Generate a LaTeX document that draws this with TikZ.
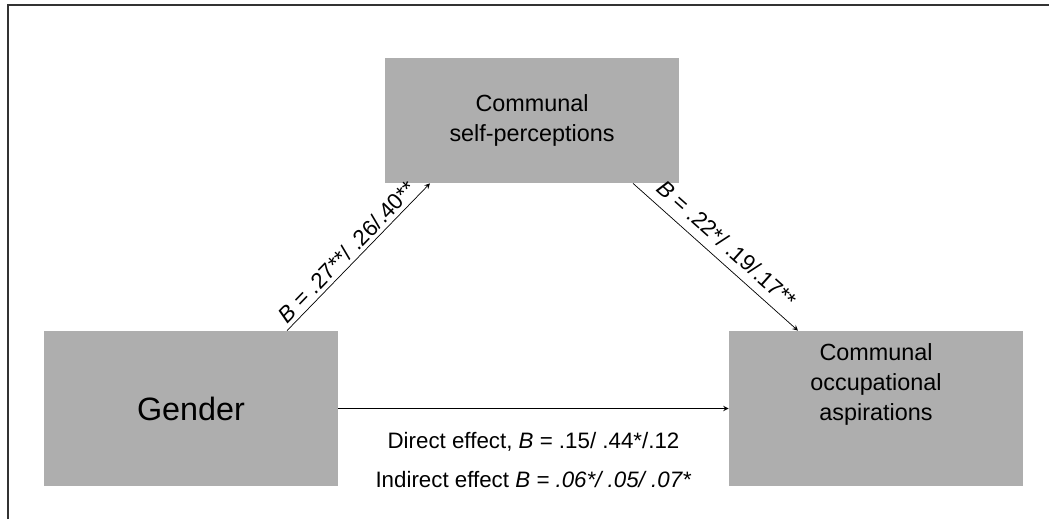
\documentclass[tikz,border=0pt]{standalone}
\usepackage{fontspec}
\setmainfont{Liberation Sans}
\usetikzlibrary{positioning,calc}
\definecolor{boxgray}{RGB}{174,174,174}
\tikzset{>=stealth}

\begin{document}
\begin{tikzpicture}[
    var/.style={fill=boxgray, minimum width=5.88cm, align=center,
        font=\fontsize{13.3}{17}\selectfont},
    lbl/.style={font=\fontsize{12.7}{15}\selectfont, inner sep=2pt}]
    \useasboundingbox (0,0) rectangle (20.98,10.38);
    \draw[line width=1pt, black!80] (0.16,0) -- (0.16,10.28) -- (20.98,10.28);

    \node[var, minimum height=2.5cm] (self) at (10.64,7.97) {Communal\\self-perceptions};
    \node[var, minimum height=3.1cm, font=\fontsize{18.4}{22}\selectfont] (gender) at (3.82,2.21) {Gender};
    \node[var, minimum height=3.1cm, text depth=1.05cm] (aspir) at (17.52,2.21) {Communal\\occupational\\aspirations};

    \coordinate (a1) at ([xshift=1.92cm]gender.north);
    \coordinate (a2) at ([xshift=-2.04cm]self.south);
    \coordinate (b1) at ([xshift=2.02cm]self.south);
    \coordinate (b2) at ([xshift=-1.56cm]aspir.north);

    \draw[->] (a1) -- (a2)
        node[lbl, sloped, above, pos=0.48] (pathA) {\textit{B} = .27**/ .26/.40**};
    \draw[->] (b1) -- (b2)
        node[lbl, sloped, above=3pt, pos=0.5] (pathB) {\textit{B} = .22*/ .19/.17**};
    \draw[->] (gender.east) -- (aspir.west)
        node[lbl, midway, below=0.4cm] (direct) {Direct effect, \textit{B} = .15/ .44*/.12};
    \node[lbl, below=0.24cm of direct] (indirect) {Indirect effect \textit{B = .06*/ .05/ .07*}};
\end{tikzpicture}
\end{document}
